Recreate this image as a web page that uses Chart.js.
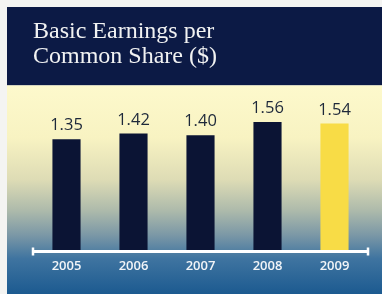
<!DOCTYPE html>
<html>
<head>
<meta charset="utf-8">
<script src="https://cdn.jsdelivr.net/npm/chart.js@4"></script>
<style>
    html, body { margin: 0; padding: 0; background: #ffffff; }
    #wrap { width: 382px; height: 294px; }
</style>
</head>
<body>
<div id="wrap"><canvas id="epsChart"></canvas></div>
<script>
'use strict';

let years = ['2005', '2006', '2007', '2008', '2009'];
let earnings = [1.35, 1.42, 1.40, 1.56, 1.54];
let valueLabels = ['1.35', '1.42', '1.40', '1.56', '1.54'];
let titleLines = ['Basic Earnings per', 'Common Share ($)'];

let barColors = ['#0b1434', '#0b1434', '#0b1434', '#0b1434', '#f8dc46'];

// panel background: navy header band, then yellow -> blue gradient
let backgroundPlugin = {
    id: 'panelBackground',
    beforeDraw(chart) {
        let ctx = chart.ctx;
        let top = chart.chartArea.top;
        ctx.save();
        ctx.fillStyle = '#f4f4f2';
        ctx.fillRect(0, 0, chart.width, chart.height);
        ctx.fillStyle = '#0c1a45';
        ctx.fillRect(7, 7, chart.width - 7, top - 7);

        let grad = ctx.createLinearGradient(0, top, 0, chart.height);
        grad.addColorStop(0, '#fdf9cc');
        grad.addColorStop(0.25, '#f8f3c2');
        grad.addColorStop(0.45, '#dedcb5');
        grad.addColorStop(0.6, '#adbaab');
        grad.addColorStop(0.72, '#7a97a6');
        grad.addColorStop(0.83, '#3f74a0');
        grad.addColorStop(1, '#1c5a90');
        ctx.fillStyle = grad;
        ctx.fillRect(7, top, chart.width - 7, chart.height - top);
        ctx.restore();
    }
};

// value labels over the bars and caps on the axis line ends
let labelsPlugin = {
    id: 'valueLabels',
    afterDatasetsDraw(chart) {
        let ctx = chart.ctx;
        let bars = chart.getDatasetMeta(0).data;
        ctx.save();
        ctx.fillStyle = '#1d283a';
        ctx.font = '16.5px "Open Sans"';
        ctx.textAlign = 'center';
        ctx.textBaseline = 'alphabetic';
        for (let i = 0; i < bars.length; i++) {
            ctx.fillText(valueLabels[i], bars[i].x, bars[i].y - 9);
        }
        ctx.restore();
    },
    afterDraw(chart) {
        let ctx = chart.ctx;
        let area = chart.chartArea;
        ctx.save();
        ctx.strokeStyle = '#ffffff';
        ctx.lineWidth = 2.5;
        ctx.beginPath();
        ctx.moveTo(area.left, area.bottom - 4);
        ctx.lineTo(area.left, area.bottom + 4);
        ctx.moveTo(area.right, area.bottom - 4);
        ctx.lineTo(area.right, area.bottom + 4);
        ctx.stroke();
        ctx.restore();
    }
};

let ctx = document.getElementById('epsChart').getContext('2d');
let epsChart = new Chart(ctx, {
    type: 'bar',
    data: {
        labels: years,
        datasets: [{
            data: earnings,
            backgroundColor: barColors,
            borderWidth: 0,
            barPercentage: 0.42,
            categoryPercentage: 1
        }]
    },
    options: {
        responsive: true,
        maintainAspectRatio: false,
        animation: false,
        layout: {
            padding: { top: 7, left: 33, right: 14, bottom: 13 }
        },
        plugins: {
            legend: { display: false },
            tooltip: { enabled: false },
            title: {
                display: true,
                text: titleLines,
                align: 'start',
                color: '#f1f2f2',
                font: { family: '"Liberation Serif", serif', size: 24, weight: 'normal', lineHeight: 1.05 },
                padding: { top: 12, bottom: 16, left: 0 }
            }
        },
        scales: {
            x: {
                grid: { display: false, drawTicks: false },
                border: { display: true, color: '#ffffff', width: 3, z: 1 },
                ticks: {
                    color: '#f2f5f8',
                    padding: 7,
                    font: { family: '"Open Sans"', size: 13, weight: '600' }
                }
            },
            y: {
                display: false,
                min: 0,
                max: 2
            }
        }
    },
    plugins: [backgroundPlugin, labelsPlugin]
});
</script>
</body>
</html>
